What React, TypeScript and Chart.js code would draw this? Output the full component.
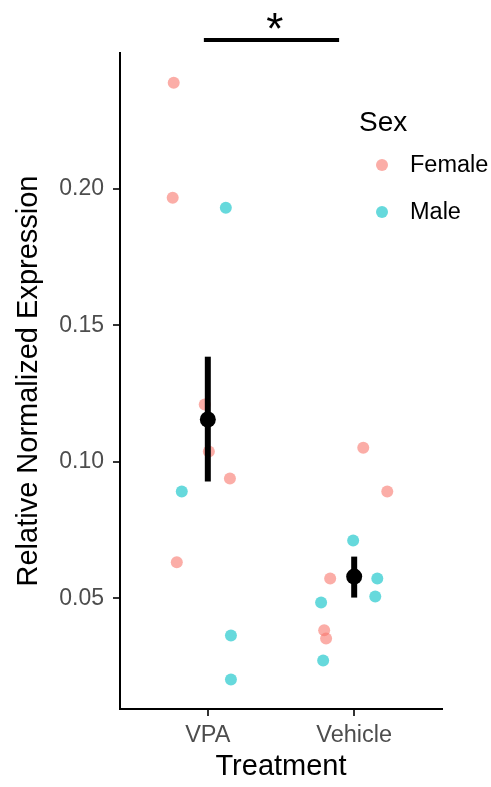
import React, { useEffect, useRef } from "react";
import { Chart, registerables } from "chart.js";

Chart.register(...registerables);

// ---- Data ----
const categories = ["VPA", "Vehicle"];
const categoryPositions = [1, 2];
const yTickValues = [0.05, 0.1, 0.15, 0.2];

// jittered x positions (category units) and values
const femaleX = [0.767, 0.76, 0.979, 1.007, 1.151, 0.788, 2.062, 2.226, 1.836, 1.795, 1.808];
const femaleY = [0.2388, 0.1967, 0.121, 0.1038, 0.0939, 0.0632, 0.1052, 0.0891, 0.0573, 0.0383, 0.0353];
const maleX = [1.123, 0.822, 1.158, 1.158, 1.993, 2.158, 2.144, 1.774, 1.788];
const maleY = [0.193, 0.0891, 0.0364, 0.0203, 0.0712, 0.0573, 0.0507, 0.0485, 0.0273];

const meanY = [0.1155, 0.058];
const seLow = [0.0928, 0.0503];
const seHigh = [0.1385, 0.0653];

const sigRange = [0.973, 1.897];
const sigY = 0.2545;
const sigLabelX = 1.457;
const sigLabel = "*";

const legendTitle = "Sex";
const legendLabels = ["Female", "Male"];

const FEMALE = "rgba(248,118,109,0.6)";
const MALE = "rgba(0,191,196,0.6)";
const FONT = "'Liberation Sans', Arial, sans-serif";

const overlayPlugin = {
  id: "overlay",
  afterDraw(chart: any) {
    const { ctx, scales } = chart;
    const x = scales.x;
    const y = scales.y;
    ctx.save();
    // significance bracket
    const x1 = x.getPixelForValue(sigRange[0]);
    const x2 = x.getPixelForValue(sigRange[1]);
    const yy = y.getPixelForValue(sigY);
    ctx.strokeStyle = "#000";
    ctx.lineWidth = 4;
    ctx.beginPath();
    ctx.moveTo(x1, yy);
    ctx.lineTo(x2, yy);
    ctx.stroke();
    ctx.fillStyle = "#000";
    ctx.font = `44px ${FONT}`;
    ctx.textAlign = "center";
    ctx.textBaseline = "alphabetic";
    ctx.fillText(sigLabel, x.getPixelForValue(sigLabelX), yy + 4);

    // legend
    ctx.textAlign = "left";
    ctx.textBaseline = "middle";
    ctx.font = `28px ${FONT}`;
    ctx.fillText(legendTitle, 359, 123);
    const colors = [FEMALE, MALE];
    const ys = [165, 212];
    ctx.font = `23.5px ${FONT}`;
    legendLabels.forEach((lab, i) => {
      ctx.fillStyle = colors[i];
      ctx.beginPath();
      ctx.arc(382, ys[i], 6, 0, Math.PI * 2);
      ctx.fill();
      ctx.fillStyle = "#000";
      ctx.fillText(lab, 410, ys[i] + 1);
    });
    ctx.restore();
  },
};

export default function App() {
  const ref = useRef<HTMLCanvasElement | null>(null);

  useEffect(() => {
    document.body.style.margin = "0";
    if (!ref.current) return;
    const errorSets = categoryPositions.map((cx, i) => ({
      type: "line" as const,
      data: [
        { x: cx, y: seLow[i] },
        { x: cx, y: seHigh[i] },
      ],
      borderColor: "#000",
      borderWidth: 6,
      borderCapStyle: "butt",
      pointRadius: 0,
      showLine: true,
      fill: false,
    }));
    const chart = new Chart(ref.current, {
      type: "scatter",
      data: {
        datasets: [
          {
            type: "scatter",
            data: categoryPositions.map((cx, i) => ({ x: cx, y: meanY[i] })),
            backgroundColor: "#000",
            borderWidth: 0,
            pointRadius: 8,
          },
          ...errorSets,
          {
            type: "scatter",
            label: "Female",
            data: femaleX.map((v, i) => ({ x: v, y: femaleY[i] })),
            backgroundColor: FEMALE,
            borderWidth: 0,
            pointRadius: 6,
          },
          {
            type: "scatter",
            label: "Male",
            data: maleX.map((v, i) => ({ x: v, y: maleY[i] })),
            backgroundColor: MALE,
            borderWidth: 0,
            pointRadius: 6,
          },
        ] as any,
      },
      options: {
        animation: false,
        responsive: true,
        maintainAspectRatio: false,
        layout: { padding: { top: 53, right: 49, left: 0, bottom: 0 } },
        plugins: { legend: { display: false }, tooltip: { enabled: false } },
        scales: {
          x: {
            type: "linear",
            min: 0.4,
            max: 2.6,
            afterBuildTicks: (s: any) => {
              s.ticks = categoryPositions.map((v) => ({ value: v }));
            },
            afterFit: (s: any) => {
              s.height = 78;
            },
            ticks: {
              callback: (v: any) => categories[categoryPositions.indexOf(Number(v))] ?? "",
              color: "#4D4D4D",
              font: { family: FONT, size: 23.5 },
              padding: 5,
              maxRotation: 0,
              autoSkip: false,
            },
            grid: { drawOnChartArea: false, drawTicks: true, tickLength: 7, color: "#333", lineWidth: 2 },
            border: { display: true, color: "#000", width: 2 },
            title: {
              display: true,
              text: "Treatment",
              color: "#000",
              font: { family: FONT, size: 29, lineHeight: 1.2 },
              padding: { top: 0, bottom: 3 },
            },
          },
          y: {
            type: "linear",
            min: 0.0095,
            max: 0.2497,
            afterBuildTicks: (s: any) => {
              s.ticks = yTickValues.map((v) => ({ value: v }));
            },
            afterFit: (s: any) => {
              s.width = 120;
            },
            ticks: {
              callback: (v: any) => Number(v).toFixed(2),
              color: "#4D4D4D",
              font: { family: FONT, size: 23 },
              padding: 9,
            },
            grid: { drawOnChartArea: false, drawTicks: true, tickLength: 7, color: "#333", lineWidth: 2 },
            border: { display: true, color: "#000", width: 2 },
            title: {
              display: true,
              text: "Relative Normalized Expression",
              color: "#000",
              font: { family: FONT, size: 29, lineHeight: 1.2 },
              padding: { top: 12, bottom: 0 },
            },
          },
        },
      } as any,
      plugins: [overlayPlugin],
    });
    return () => chart.destroy();
  }, []);

  return (
    <div style={{ width: 491, height: 787, position: "relative" }}>
      <canvas ref={ref} />
    </div>
  );
}
